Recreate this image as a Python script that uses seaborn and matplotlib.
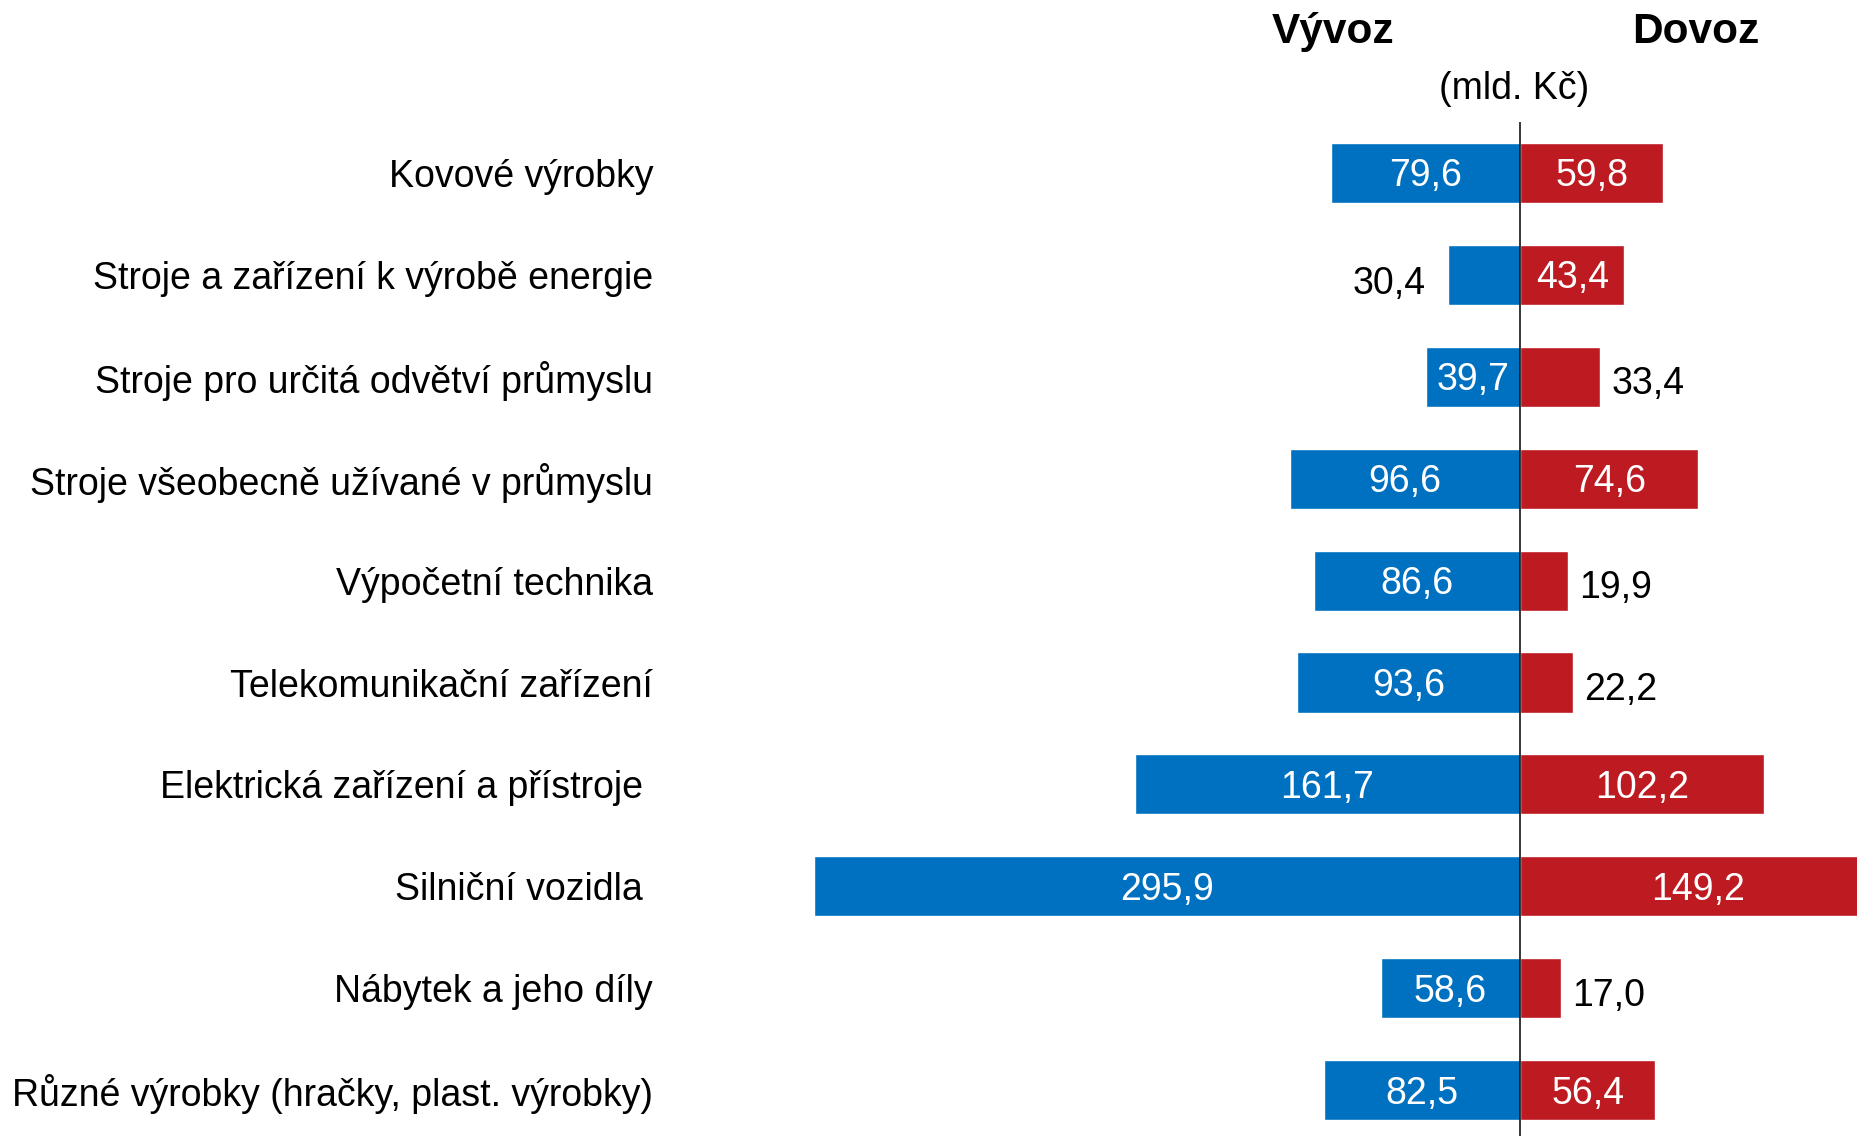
import matplotlib
matplotlib.use("Agg")
import matplotlib.pyplot as plt
import seaborn as sns
import pandas as pd

categories = [
    "Kovové výrobky",
    "Stroje a zařízení k výrobě energie",
    "Stroje pro určitá odvětví průmyslu",
    "Stroje všeobecně užívané v průmyslu",
    "Výpočetní technika",
    "Telekomunikační zařízení",
    "Elektrická zařízení a přístroje ",
    "Silniční vozidla ",
    "Nábytek a jeho díly",
    "Různé výrobky (hračky, plast. výrobky)",
]
vyvoz = [79.6, 30.4, 39.7, 96.6, 86.6, 93.6, 161.7, 295.9, 58.6, 82.5]
dovoz = [59.8, 43.4, 33.4, 74.6, 19.9, 22.2, 102.2, 149.2, 17.0, 56.4]

BLUE = "#0070C0"
RED = "#BE1A21"

sns.set_theme(style="white")
plt.rcParams["font.family"] = ["Liberation Sans", "DejaVu Sans"]
plt.rcParams["text.color"] = "black"
plt.rcParams["ytick.color"] = "black"

df = pd.DataFrame({"kat": categories, "vyvoz": [-v for v in vyvoz], "dovoz": dovoz})

W, H = 1858, 1136
fig = plt.figure(figsize=(W / 100, H / 100), dpi=100)
ax = fig.add_axes([660 / W, 0, 1 - 660 / W, 1 - 122 / H])

sns.barplot(data=df, x="vyvoz", y="kat", orient="h", color=BLUE, width=0.59,
            saturation=1, ax=ax, order=categories)
sns.barplot(data=df, x="dovoz", y="kat", orient="h", color=RED, width=0.59,
            saturation=1, ax=ax, order=categories)

ax.set_xlim(-360.6, 141.45)
ax.set_ylim(9.45, -0.5)
ax.axvline(0, color="black", lw=1.1, zorder=5)

for s in ax.spines.values():
    s.set_visible(False)
ax.set_xticks([])
ax.set_xlabel("")
ax.set_ylabel("")
ax.tick_params(axis="y", length=0, pad=5, labelsize=27, labelcolor="black")


def fmt(v):
    return f"{v:.1f}".replace(".", ",")


for i, (e, m) in enumerate(zip(vyvoz, dovoz)):
    if e > 35:
        ax.annotate(fmt(e), (-e / 2, i), xytext=(0, -2.5), textcoords="offset points",
                    ha="center", va="center", color="white", fontsize=27, zorder=6)
    else:
        ax.annotate(fmt(e), (-e, i), xytext=(-16, -6.5), textcoords="offset points",
                    ha="right", va="center", color="black", fontsize=27)
    if m > 35:
        ax.annotate(fmt(m), (m / 2, i), xytext=(0, -2.5), textcoords="offset points",
                    ha="center", va="center", color="white", fontsize=27, zorder=6)
    else:
        ax.annotate(fmt(m), (m, i), xytext=(8, -5.5), textcoords="offset points",
                    ha="left", va="center", color="black", fontsize=27)

fig.text(1333 / W, 1 - 32 / H, "Vývoz", ha="center", va="center", fontsize=30.5, fontweight="bold")
fig.text(1696 / W, 1 - 32 / H, "Dovoz", ha="center", va="center", fontsize=30.5, fontweight="bold")
fig.text(1514 / W, 1 - 89 / H, "(mld. Kč)", ha="center", va="center", fontsize=27)

fig.savefig("out.png", dpi=100, facecolor="white")
